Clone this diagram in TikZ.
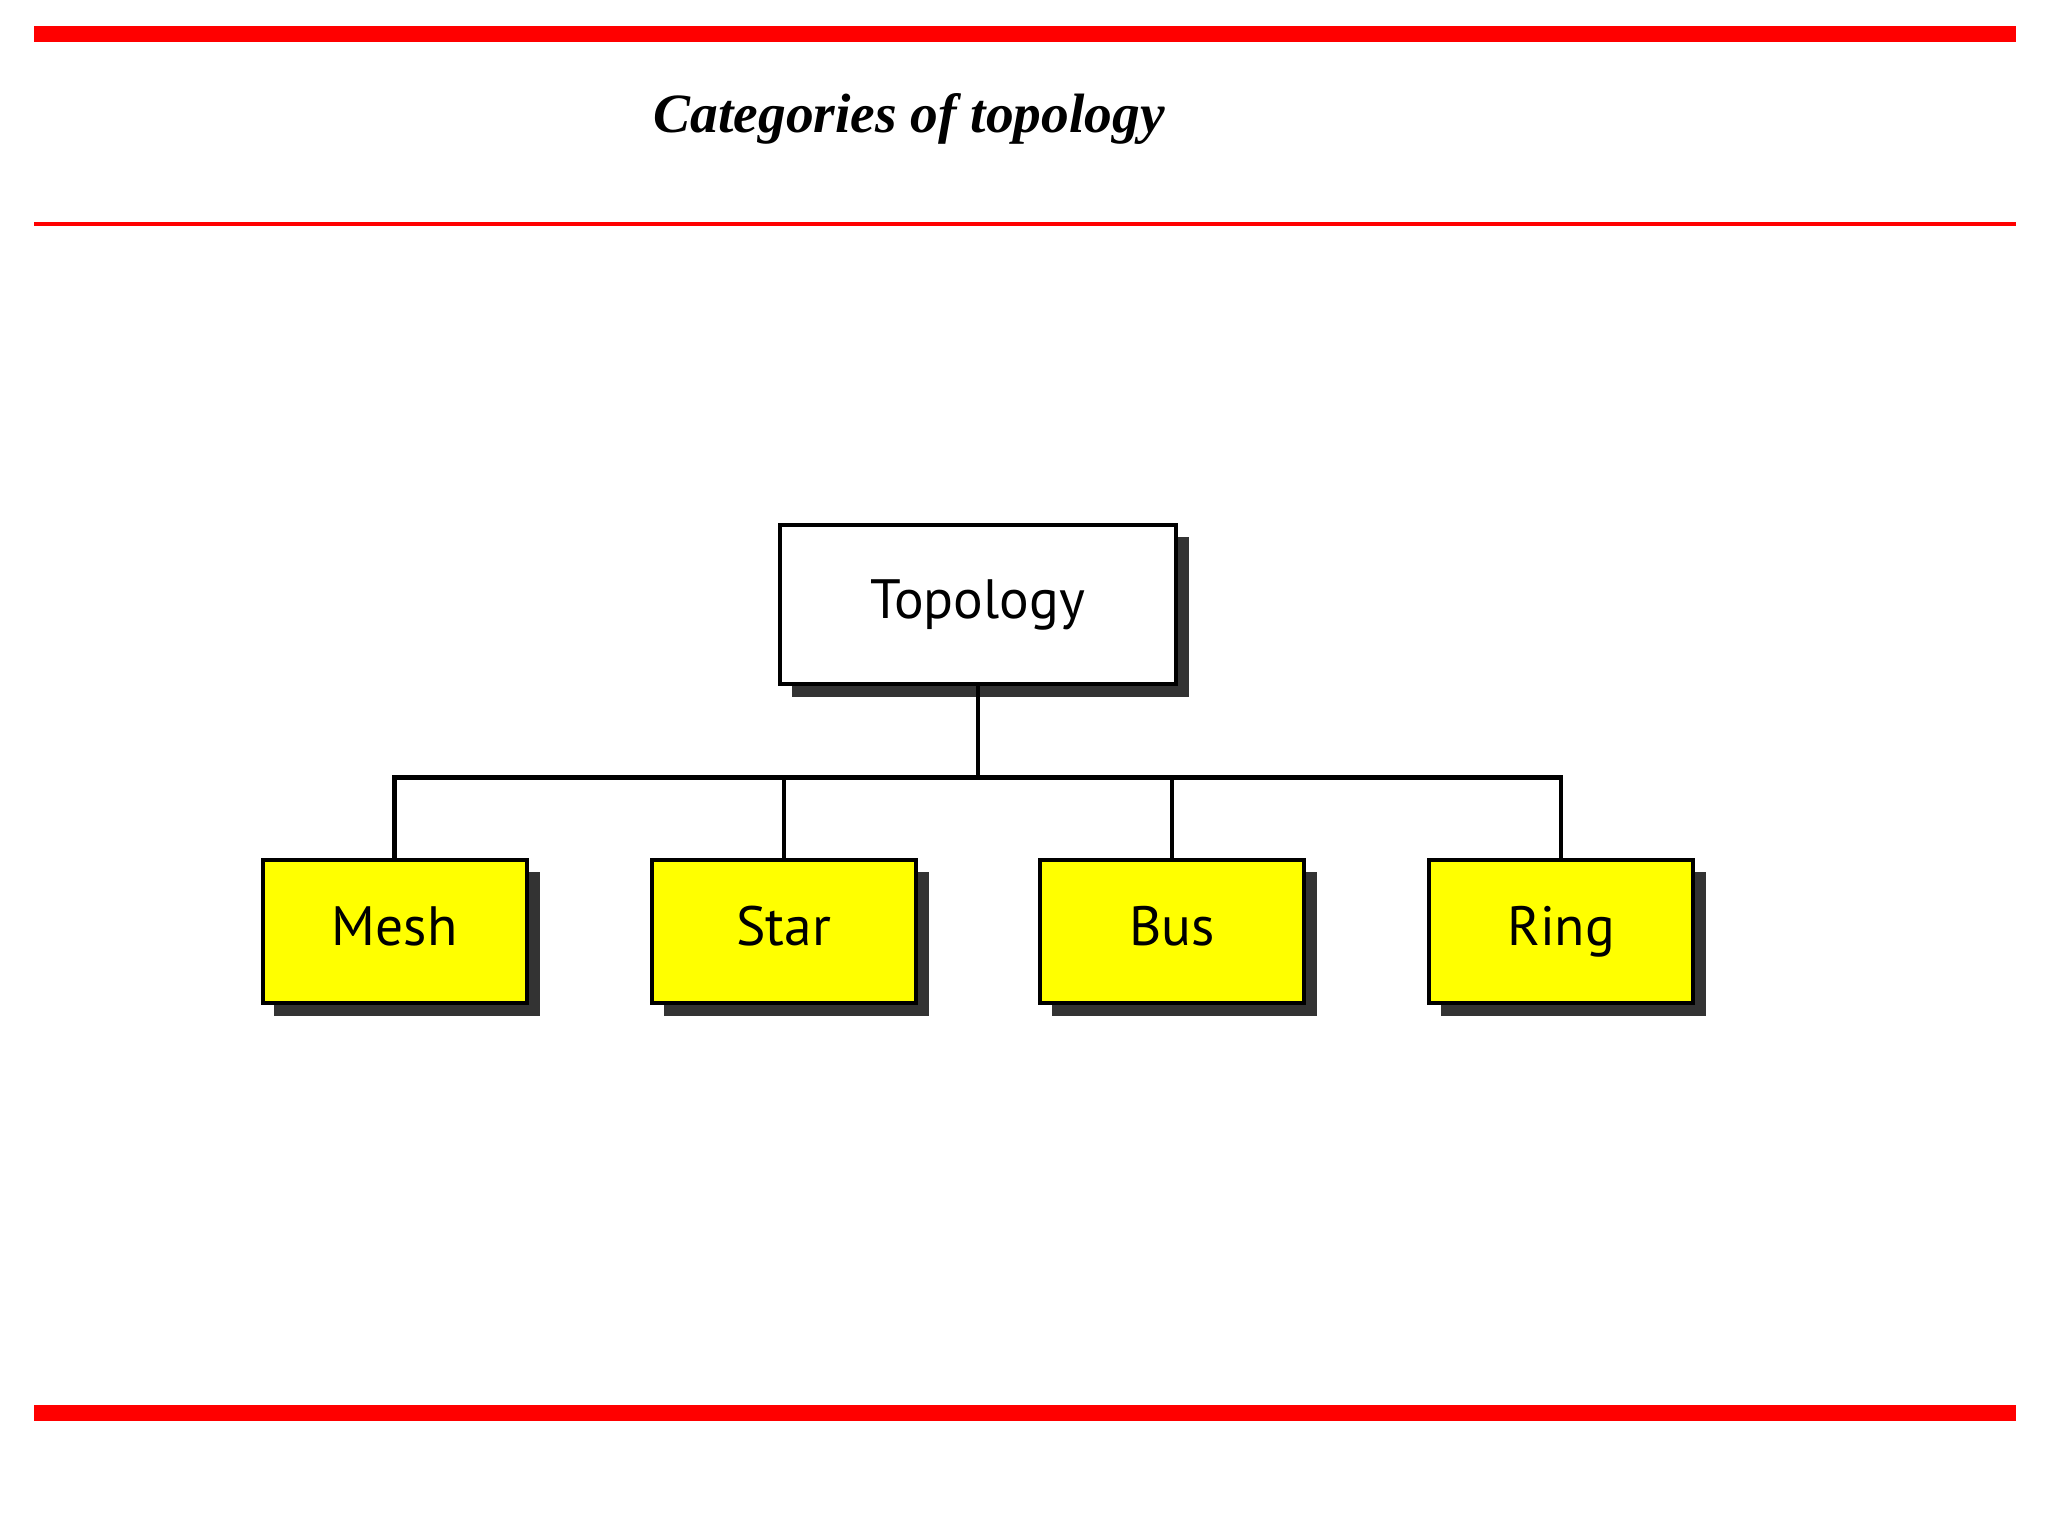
\documentclass[tikz,border=0pt]{standalone}
\usepackage{fontspec}
\setmainfont{Liberation Serif}
\newfontfamily\boxfont{PT Sans}
\definecolor{boxyellow}{RGB}{255,255,0}
\begin{document}
\begin{tikzpicture}[x=1pt,y=-1pt,
  box/.style={draw=black,line width=3pt,minimum width=200pt,minimum height=108pt,inner sep=0pt,
    text height=30pt,text depth=9pt,
    font=\boxfont\fontsize{42}{48}\selectfont},
  conn/.style={line width=3.5pt}]
\useasboundingbox (0,0) rectangle (1552,1164);
\fill[red] (26,20) rectangle (1528,32);
\fill[red] (26,168) rectangle (1528,171);
\fill[red] (26,1065) rectangle (1528,1077);
\node (title) at (689,90) {\fontsize{42}{48}\selectfont\bfseries\itshape Categories of topology};
% shadows
\fill[black!80] (600,407) rectangle (901,528);
\foreach \x in {199,494,788,1083} \fill[black!80] (\x+9,661) rectangle (\x+210,770);
\node[box,fill=white,minimum width=300pt,minimum height=120pt] (top) at (741,458) {Topology};
\node[box,fill=boxyellow] (mesh) at (299,706) {Mesh};
\node[box,fill=boxyellow] (star) at (594,706) {Star};
\node[box,fill=boxyellow] (bus) at (888,706) {Bus};
\node[box,fill=boxyellow] (ring) at (1183,706) {Ring};
\coordinate (j) at (741,589);
\draw[conn] (top.south) -- (j);
\draw[conn] (mesh.north) |- (j);
\draw[conn] (ring.north) |- (j);
\draw[conn] (star.north) -- (star.north |- j);
\draw[conn] (bus.north) -- (bus.north |- j);
\end{tikzpicture}
\end{document}
